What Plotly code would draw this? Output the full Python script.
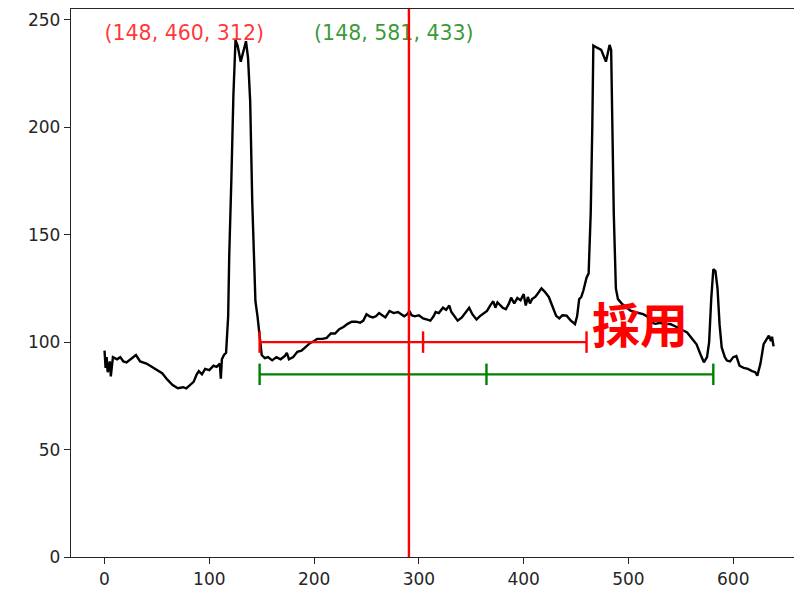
import plotly.graph_objects as go

# ---- data ----
prof_x = [0, 1, 2, 3, 5, 6, 8, 12, 15, 18, 21, 25, 30, 34, 40, 45, 50, 55, 60, 65, 70, 75, 78, 82, 85, 88, 90, 93, 96, 100,
          104, 107, 110, 111, 112, 114, 116, 118, 119, 121, 123, 125, 127, 130, 133, 135, 137, 139, 141, 142.5, 144, 146, 147, 148.5,
          150, 153, 156, 160, 164, 168, 172, 174, 176, 180, 184, 188, 192, 196, 200, 203, 208, 212, 216, 220, 224, 228, 232, 236,
          240, 244, 247, 250, 253, 256, 259, 262, 265, 268, 272, 276, 280, 283, 286, 289, 291, 293, 296, 300, 304, 308, 311, 314,
          316, 319, 323, 326, 329, 331, 334, 337, 341, 345, 348, 351, 355, 358, 362, 365, 368, 371, 373, 375, 377, 380, 383, 386,
          388, 391, 394, 397, 400, 402, 404, 406, 408, 411, 413, 415, 417, 420, 424, 428, 431, 434, 437, 441, 445, 449, 451, 453,
          455, 457, 460, 462, 464, 465.5, 466.5, 470, 474, 478.5, 482, 483.5, 484.5, 486, 488, 490, 494, 498, 502, 506, 510, 514,
          518, 522, 526, 530, 535, 540, 544, 548, 552, 556, 560, 565, 569, 572, 575, 577, 579, 581, 583, 585, 587, 589, 592, 594,
          597, 600, 603, 606, 610, 614, 618, 621, 623, 626, 629, 632, 634, 636, 637, 638.5]
prof_y = [96, 88, 93, 86, 91, 84, 93, 92, 93, 91, 90.5, 92, 94, 91, 90, 88.5, 87, 85.5, 82.5, 80, 78.5, 79, 78.5, 80, 81.5, 85, 86.5, 85, 87.5, 87,
          89, 88.5, 90, 83, 92, 94, 95, 112, 140, 175, 215, 240.5, 238, 230.5, 236, 240, 232, 212, 165, 140, 119, 112, 108, 102,
          94, 92.5, 93, 91.5, 93, 92, 93.5, 95, 92, 93, 95.5, 96, 98, 99.5, 100.5, 101.5, 101.5, 102, 104, 104, 106, 107, 108.5, 109.5,
          109.5, 109, 110, 113, 112, 111.5, 112, 113.5, 112.5, 111.5, 114.5, 113.5, 114, 113, 112, 113, 114.5, 112.5, 112, 112.5, 111, 110.5, 110, 112,
          114, 113.5, 116, 115, 117, 114, 112, 110, 111.5, 114, 116, 113, 110.5, 112, 113.5, 114.5, 117, 119, 116, 118.5, 117.5, 116, 115.3, 118,
          120.7, 118, 120.5, 119.5, 122.3, 117, 121, 118, 120, 121, 122.3, 124, 125, 123.5, 121, 116, 112.2, 111, 112.5, 112.3, 110, 108.4, 112, 120,
          121, 124, 130, 132, 160, 200, 238, 237, 236, 230.5, 238.3, 236, 205, 160, 125, 120, 117.7, 116, 114.6, 114, 113.5, 113,
          112, 109, 108.5, 109, 108.5, 108.4, 107.5, 106.5, 105.5, 104.5, 102, 99, 94, 90.6, 93, 100, 120, 133.9, 133, 125, 108, 97.5, 93, 91.4,
          91, 93, 93.5, 89, 88, 87.5, 86.5, 86, 84.4, 90, 99, 101.5, 103, 100.5, 102.5, 98]

red_span = [148, 460]      # start, end
red_level = 100
green_span = [148, 581]
green_level = 85
cap_half = 5
center_x = 290.5
red_label = "(148, 460, 312)"
green_label = "(148, 581, 433)"
red_label_pos = [0, 243]
green_label_pos = [200, 243]
adopt_text = "採用"
adopt_pos = [511, 105]

x_ticks = [0, 100, 200, 300, 400, 500, 600]
y_ticks = [0, 50, 100, 150, 200, 250]

fig = go.Figure()

fig.add_trace(go.Scatter(x=prof_x, y=prof_y, mode="lines",
                         line=dict(color="black", width=2.4), hoverinfo="skip"))


def bracket(span, level, color):
    a, b = span
    m = (a + b) / 2
    xs = [a, b, None, a, a, None, m, m, None, b, b]
    ys = [level, level, None, level - cap_half, level + cap_half, None,
          level - cap_half, level + cap_half, None, level - cap_half, level + cap_half]
    fig.add_trace(go.Scatter(x=xs, y=ys, mode="lines",
                             line=dict(color=color, width=2.4), hoverinfo="skip"))


bracket(red_span, red_level, "red")
bracket(green_span, green_level, "green")

fig.add_trace(go.Scatter(x=[red_label_pos[0]], y=[red_label_pos[1]], mode="text", text=[red_label],
                         textposition="middle right", hoverinfo="skip",
                         textfont=dict(family="DejaVu Sans", size=20.5, color="rgba(255,0,0,0.8)")))
fig.add_trace(go.Scatter(x=[green_label_pos[0]], y=[green_label_pos[1]], mode="text", text=[green_label],
                         textposition="middle right", hoverinfo="skip",
                         textfont=dict(family="DejaVu Sans", size=20.5, color="rgba(0,128,0,0.8)")))
fig.add_trace(go.Scatter(x=[adopt_pos[0]], y=[adopt_pos[1]], mode="text", text=["<b>" + adopt_text + "</b>"],
                         textposition="middle center", hoverinfo="skip",
                         textfont=dict(family="Noto Sans CJK JP", size=48, color="red")))

fig.add_trace(go.Scatter(x=[center_x, center_x], y=[0, 255], mode="lines",
                         line=dict(color="red", width=2.4), hoverinfo="skip"))

fig.update_layout(
    width=794, height=590,
    margin=dict(l=71, r=0, t=9, b=33, autoexpand=False),
    paper_bgcolor="white", plot_bgcolor="white",
    showlegend=False,
    font=dict(family="DejaVu Sans", size=17, color="#262626"),
)
fig.update_xaxes(range=[-32, 658], tickvals=x_ticks, ticks="outside", ticklen=6, tickwidth=1.4,
                 tickcolor="#262626", showgrid=False, zeroline=False, automargin=False,
                 showline=True, linecolor="#262626", linewidth=1.4, mirror=True)
fig.update_yaxes(range=[0, 255], tickvals=y_ticks, ticks="outside", ticklen=6, tickwidth=1.4,
                 tickcolor="#262626", showgrid=False, zeroline=False, automargin=False,
                 showline=True, linecolor="#262626", linewidth=1.4)

fig.write_html("out.html", config={"displayModeBar": False},
               post_script="document.body.style.margin='0';document.body.style.overflow='hidden';")
